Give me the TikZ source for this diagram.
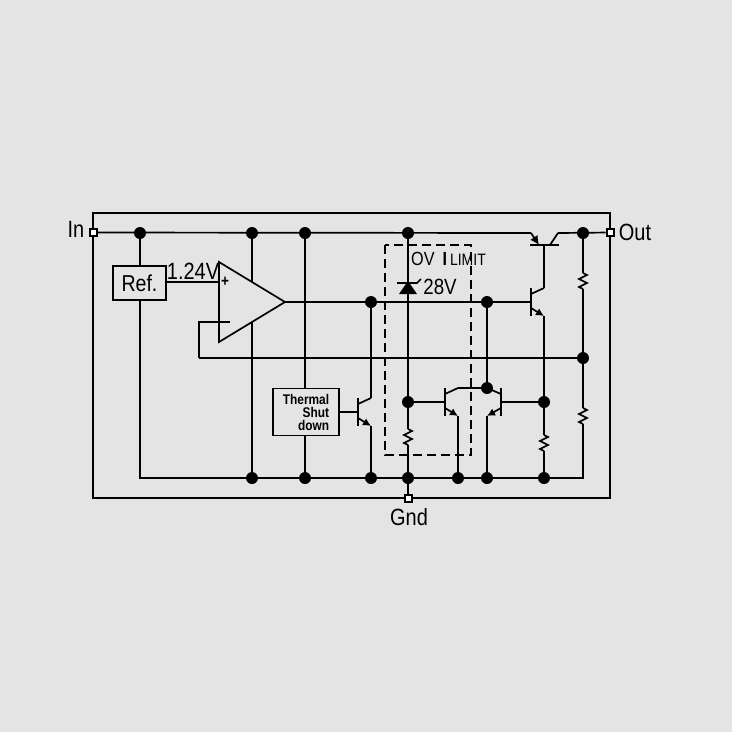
\documentclass[tikz,border=0pt]{standalone}
\usepackage{fontspec}
\setmainfont[FakeStretch=0.85]{Liberation Sans}
\usetikzlibrary{arrows.meta}
\definecolor{panelgray}{HTML}{E4E4E4}
\tikzset{
  wire/.style={line width=1.7pt, black},
  frameline/.style={line width=1.9pt, black},
  junction/.style={circle, fill=black, inner sep=0pt, minimum size=12pt},
  port/.style={rectangle, draw=black, fill=white, line width=2pt, inner sep=0pt, minimum size=7pt},
  blockbox/.style={rectangle, draw=black, fill=panelgray, line width=1.7pt, inner sep=0pt},
  biglabel/.style={font=\fontsize{23.5}{25}\selectfont, inner sep=0pt},
  midlabel/.style={font=\fontsize{22}{24}\selectfont, inner sep=0pt}
}
\begin{document}
\begin{tikzpicture}[x=1pt, y=-1pt]
    \useasboundingbox (0,0) rectangle (732,732);
    \fill[panelgray] (0,0) rectangle (732,732);

    % Frame and terminals
    \draw[frameline] (93,213) rectangle (610,498);
    \node[port] (portin) at (93,232.5) {};
    \node[port] (portout) at (610,232.5) {};
    \node[port] (portgnd) at (408,498) {};
    \node[biglabel] (lblin) at (76,229) {In};
    \node[biglabel] (lblout) at (635,232) {Out};
    \node[biglabel] (lblgnd) at (409,517) {Gnd};

    % Junctions
    \foreach \name/\x/\y in {tgnd/252/233, ttherm/305/233, tzen/408/233, tout/583/233, tref/140/233,
        bamp/252/478, btherm/305/478, bdrv/371/478, bzen/408/478, bqa/458/478, bqb/487/478, bqr/544/478,
        jdrv/371/302, jctl/487/302, jbase/408/402, jcoll/487/388, jr/544/402, jfb/583/358} {
        \node[junction] (\name) at (\x,\y) {};
    }
    \coordinate (cleft) at (140,478);
    \coordinate (cright) at (583,478);
    \coordinate (ampminus) at (230,322);
    \coordinate (ampbend) at (199,322);
    \coordinate (fbbend) at (199,358);
    \coordinate (ampplus) at (219,282);
    \coordinate (ampout) at (285,302);

    % Resistors
    \foreach \name/\x/\y in {rout/583/273, rfb/583/408, rzen/408/429, rqr/544/435} {
        \draw[wire] (\x,\y) coordinate (\name t) -- ++(4,2) -- ++(-8,4) -- ++(8,4) -- ++(-8,4) -- ++(4,2)
            coordinate (\name b);
    }

    % NPN transistors
    \foreach \name/\x/\y/\w in {qdrv/358/412/13, qpass/531/302/13, qa/445/402/13, qb/501/402/-14} {
        \draw[wire] (\x,\y-14) -- (\x,\y+14);
        \coordinate (\name b) at (\x,\y);
        \draw[wire] (\x,\y-8) -- ++(\w,-6) coordinate (\name c);
        \draw[wire, -{Latex[length=8pt,width=8pt]}] (\x,\y+6) -- ++(\w,8) coordinate (\name e);
    }

    % Pass transistor on the input rail
    \coordinate (pnpbase) at (544,245);
    \coordinate (pnpem) at (531,233);
    \coordinate (pnpcoll) at (558,233);
    \draw[wire] (530,245) -- (559,245);
    \draw[wire, -{Latex[length=9pt,width=9pt]}] (pnpem) -- (539,245);
    \draw[wire] (550,245) -- (pnpcoll);

    % Rails
    \draw[wire] (portin) -- (pnpem);
    \draw[wire] (pnpcoll) -- (portout);
    \draw[wire] (tref) -- (cleft) -- (cright) -- (rfbb);
    \draw[wire] (tout) -- (routt);
    \draw[wire] (routb) -- (jfb) -- (rfbt);
    \draw[wire] (tgnd) -- (bamp);
    \draw[wire] (ttherm) -- (btherm);
    \draw[wire] (pnpbase) -- (qpassc);
    \draw[wire] (qpasse) -- (rqrt);
    \draw[wire] (rqrb) -- (bqr);

    % Limit stage
    \draw[wire] (tzen) -- (rzent);
    \draw[wire] (rzenb) -- (bzen) -- (portgnd);
    \draw[wire] (jbase) -- (qab);
    \draw[wire] (jr) -- (qbb);
    \draw[wire] (qac) -- (jcoll);
    \draw[wire] (jctl) -- (jcoll);
    \draw[wire] (qae) -- (bqa);
    \draw[wire] (qbe) -- (bqb);
    \draw[wire] (jdrv) -- (qdrvc);
    \draw[wire] (qdrve) -- (bdrv);
    \draw[wire] (ampout) -- (qpassb);
    \draw[wire] (fbbend) -- (jfb);

    % Zener
    \fill[black] (408,281) -- (417,294) -- (399,294) -- cycle;
    \draw[wire] (397,283) -- (417,283) -- (421,279);
    \node[midlabel] (lblzener) at (440,287) {28V};

    % Amplifier
    \draw[wire, fill=panelgray] (219,262) -- (ampout) -- (219,342) -- cycle;
    \draw[wire] (ampminus) -- (ampbend) -- (fbbend);
    \node[font=\bfseries\fontsize{16}{16}\selectfont, inner sep=0pt] (lblplus) at (225,282) {+};

    % Blocks
    \node[blockbox, minimum width=53pt, minimum height=34pt, font=\fontsize{23}{24}\selectfont] (refbox) at (139.5,283) {Ref.};
    \node[blockbox, minimum width=66pt, minimum height=47pt, align=right, font=\bfseries\fontsize{14}{13}\selectfont] (thermbox) at (306,412) {Thermal\\Shut\\down};
    \draw[wire] (refbox.east |- ampplus) -- (ampplus);
    \draw[wire] (thermbox.east) -- (qdrvb);
    \node[midlabel, font=\fontsize{23.5}{24}\selectfont] (lblref) at (193,271) {1.24V};

    % Limit box
    \draw[wire, line width=1.9pt, dash pattern=on 9pt off 5pt] (385,245) rectangle (471,455);
    \node[anchor=west, inner sep=0pt, font=\fontsize{19}{20}\selectfont] (lbllimit) at (411,259)
        {OV\hspace{8pt}{\bfseries I}\hspace{3pt}{\fontsize{16.5}{16}\selectfont LIMIT}};
\end{tikzpicture}
\end{document}
